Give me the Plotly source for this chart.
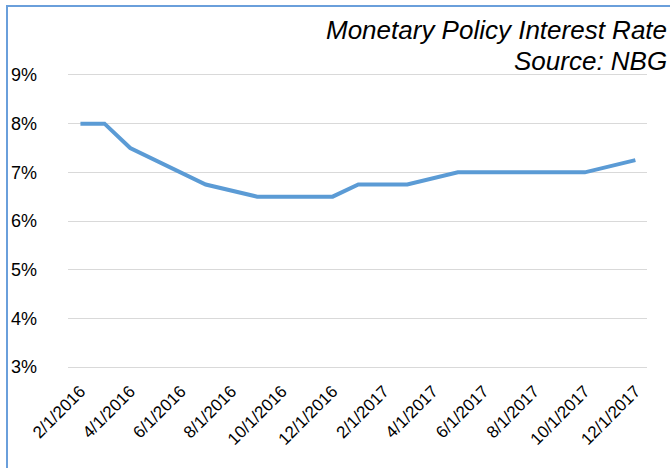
import plotly.graph_objects as go

# Policy rate at each change point (percent)
dates = ["2016-02-01", "2016-03-01", "2016-04-01", "2016-07-01", "2016-09-01",
         "2016-12-01", "2017-01-01", "2017-03-01", "2017-05-01", "2017-10-01",
         "2017-12-01"]
rates = [8.0, 8.0, 7.5, 6.75, 6.5, 6.5, 6.75, 6.75, 7.0, 7.0, 7.25]

tick_dates = ["2016-02-01", "2016-04-01", "2016-06-01", "2016-08-01", "2016-10-01",
              "2016-12-01", "2017-02-01", "2017-04-01", "2017-06-01", "2017-08-01",
              "2017-10-01", "2017-12-01"]
tick_labels = ["2/1/2016", "4/1/2016", "6/1/2016", "8/1/2016", "10/1/2016",
               "12/1/2016", "2/1/2017", "4/1/2017", "6/1/2017", "8/1/2017",
               "10/1/2017", "12/1/2017"]
y_ticks = [3, 4, 5, 6, 7, 8, 9]
y_labels = ["3%", "4%", "5%", "6%", "7%", "8%", "9%"]

W, H = 670, 468
L, R, T, B = 68, 23, 73, 99
pw, ph = W - L - R, H - T - B

FONT = "Liberation Sans, Arial, sans-serif"

fig = go.Figure()
fig.add_trace(go.Scatter(
    x=dates, y=rates, mode="lines",
    line=dict(color="#5B9BD5", width=4),
    hoverinfo="skip",
))

def px_x(p):
    return (p - L) / pw

def px_y(p):
    return (H - B - p) / ph

# chart frame: visible left and top edges
fig.add_shape(type="line", xref="paper", yref="paper",
              x0=px_x(7), x1=px_x(7), y0=px_y(6), y1=px_y(H + 5),
              line=dict(color="#6A9FDB", width=2))
fig.add_shape(type="line", xref="paper", yref="paper",
              x0=px_x(6), x1=px_x(W + 5), y0=px_y(6), y1=px_y(6),
              line=dict(color="#6A9FDB", width=2))

# two-line italic heading in the top-right corner
for text, yc in [("Monetary Policy Interest Rate", 30), ("Source: NBG", 61)]:
    fig.add_annotation(
        xref="paper", yref="paper", x=px_x(669), y=px_y(yc),
        xanchor="right", yanchor="middle", showarrow=False,
        text=f"<i>{text}</i>",
        font=dict(family=FONT, size=26, color="#000000"),
    )

fig.update_layout(
    width=W, height=H,
    margin=dict(l=L, r=R, t=T, b=B),
    paper_bgcolor="white", plot_bgcolor="white",
    showlegend=False,
    font=dict(family=FONT, color="#000000"),
)
fig.update_xaxes(
    type="date", range=["2016-01-17", "2017-12-15"],
    tickvals=tick_dates, ticktext=tick_labels, tickangle=-45,
    tickfont=dict(size=17), showgrid=False, zeroline=False,
    showline=False, ticks="", ticklabelstandoff=8,
)
fig.update_yaxes(
    range=[2.96, 9.04], tickvals=y_ticks, ticktext=y_labels,
    tickfont=dict(size=18), showgrid=True, gridcolor="#D9D9D9", gridwidth=1,
    zeroline=False, showline=False, ticks="", ticklabelstandoff=30,
)

fig.write_html("out.html")
